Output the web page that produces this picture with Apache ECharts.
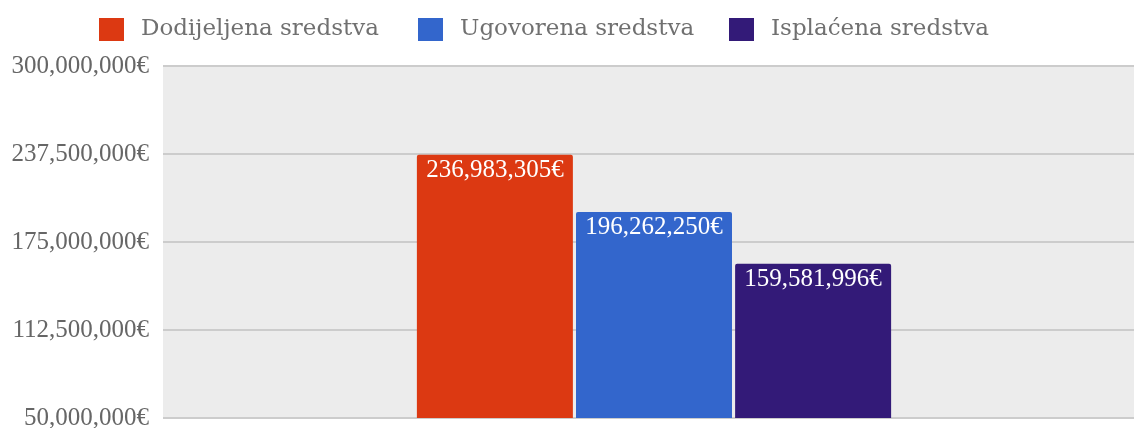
<!DOCTYPE html>
<html>
<head>
<meta charset="utf-8">
<style>
  html, body { margin: 0; padding: 0; background: #fff; }
  #chart { width: 1134px; height: 428px; }
</style>
<script src="https://cdn.jsdelivr.net/npm/echarts@6/dist/echarts.min.js"></script>
</head>
<body>
<div id="chart"></div>
<script>
// podaci
const categories = ['Sredstva'];
const seriesNames = ['Dodijeljena sredstva', 'Ugovorena sredstva', 'Isplaćena sredstva'];
const seriesColors = ['#dc3912', '#3366cc', '#331a78'];
const dodijeljena = [236983305];
const ugovorena = [196262250];
const isplacena = [159581996];
const yMin = 50000000;
const yMax = 300000000;
const yStep = 62500000;

const values = [dodijeljena, ugovorena, isplacena];
const legendLeft = [99, 418, 729];

const fmt = v => Math.round(v).toLocaleString('en-US') + '€';

const chart = echarts.init(document.getElementById('chart'));

const option = {
  animation: false,
  // jedna legenda po seriji da bi pozicije odgovarale
  legend: seriesNames.map((name, i) => ({
    data: [name],
    left: legendLeft[i],
    top: 18,
    padding: 0,
    itemWidth: 25,
    itemHeight: 23,
    icon: 'rect',
    selectedMode: false,
    textStyle: {
      fontFamily: 'DejaVu Serif',
      fontSize: 23,
      color: '#707070',
      padding: [0, 0, 0, 12]
    }
  })),
  grid: {
    left: 163,
    right: -11,
    top: 66,
    bottom: 10,
    outerBoundsMode: 'none',
    containLabel: false,
    show: true,
    backgroundColor: '#ececec',
    borderWidth: 0
  },
  xAxis: {
    type: 'category',
    data: categories,
    axisLine: { show: false },
    axisTick: { show: false },
    axisLabel: { show: false }
  },
  yAxis: {
    type: 'value',
    min: yMin,
    max: yMax,
    interval: yStep,
    axisLine: { show: false },
    axisTick: { show: false },
    splitLine: { lineStyle: { color: '#cccccc', width: 2 } },
    axisLabel: {
      margin: 14,
      fontFamily: 'Liberation Serif',
      fontSize: 25,
      color: '#666666',
      formatter: fmt
    }
  },
  series: seriesNames.map((name, i) => ({
    name: name,
    type: 'bar',
    data: values[i],
    barWidth: 156,
    barGap: '2%',
    itemStyle: {
      color: seriesColors[i],
      borderRadius: [2, 2, 0, 0]
    },
    label: {
      show: true,
      position: 'insideTop',
      distance: 3,
      fontFamily: 'Liberation Serif',
      fontSize: 25,
      color: '#ffffff',
      formatter: p => fmt(p.value)
    }
  }))
};

chart.setOption(option);
</script>
</body>
</html>
